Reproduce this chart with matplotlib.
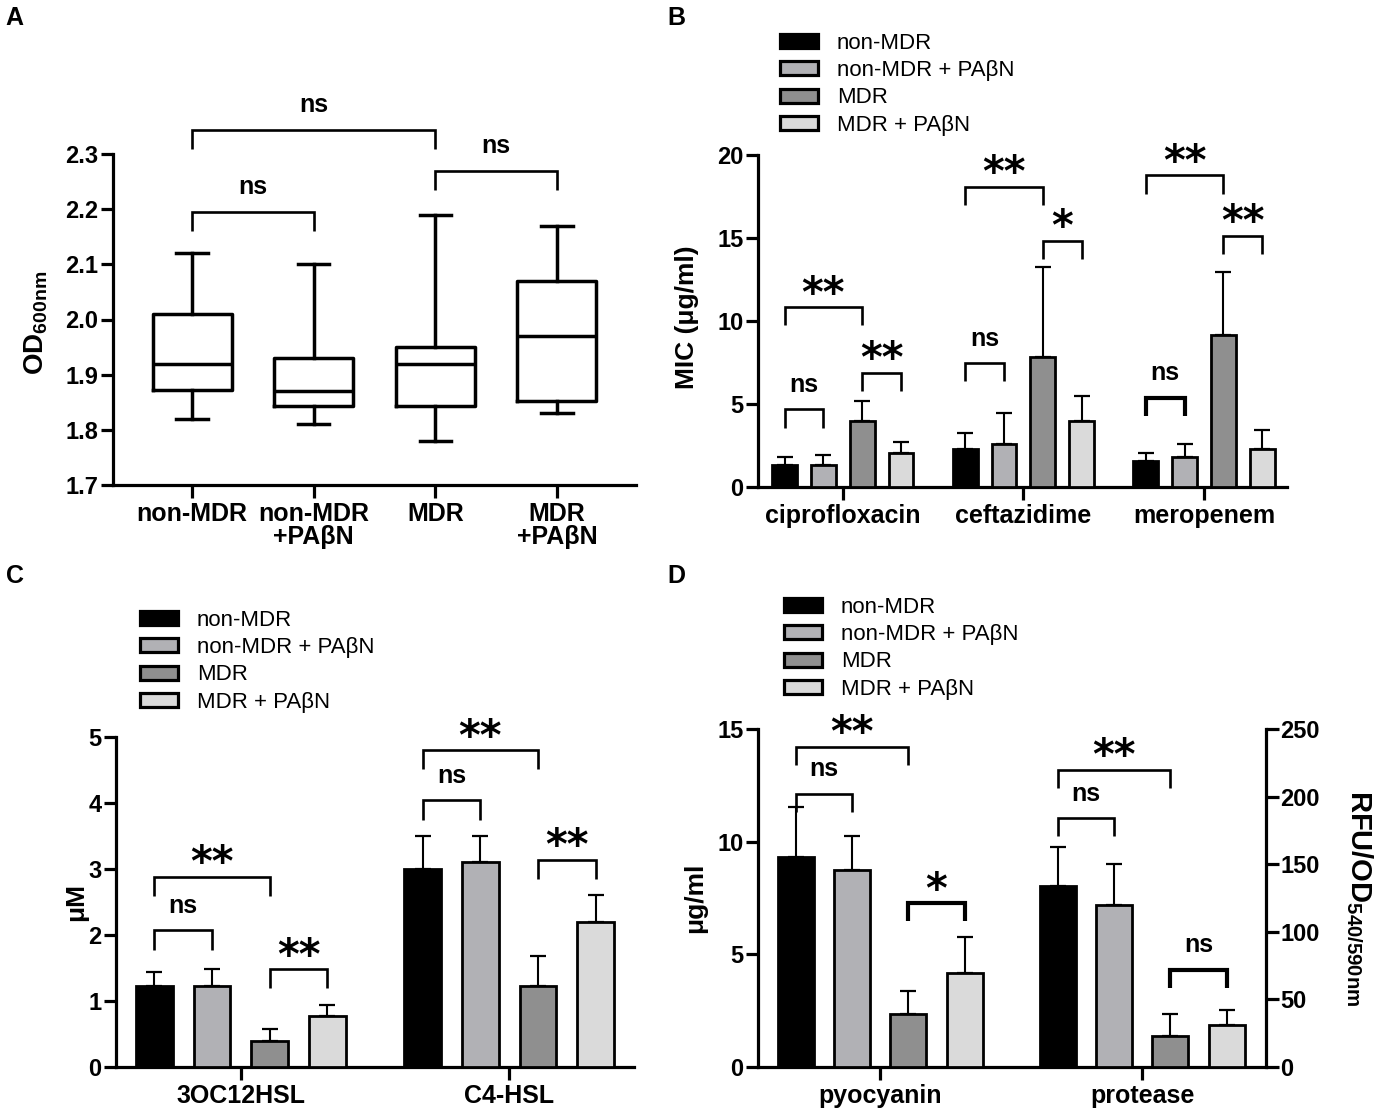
import matplotlib
matplotlib.use('Agg')
import matplotlib.pyplot as plt
from matplotlib.patches import Patch
import numpy as np

plt.rcParams['font.family'] = ['Liberation Sans', 'DejaVu Sans']
plt.rcParams['mathtext.fontset'] = 'custom'
plt.rcParams['mathtext.rm'] = 'Liberation Sans'
plt.rcParams['mathtext.bf'] = 'Liberation Sans:bold'
plt.rcParams['mathtext.it'] = 'Liberation Sans:italic'

series = ['non-MDR', 'non-MDR + PAβN', 'MDR', 'MDR + PAβN']
colors = ['#000000', '#b1b1b5', '#8f8f8f', '#dadada']

# panel A - growth (box plot)
box_labels = ['non-MDR', 'non-MDR\n+PAβN', 'MDR', 'MDR\n+PAβN']
box_min = [1.82, 1.81, 1.78, 1.83]
box_q1 = [1.873, 1.843, 1.843, 1.853]
box_med = [1.92, 1.87, 1.92, 1.97]
box_q3 = [2.01, 1.93, 1.95, 2.07]
box_max = [2.12, 2.10, 2.19, 2.17]
box_sig = [(0, 1, 2.195, 'ns'), (2, 3, 2.27, 'ns'), (0, 2, 2.344, 'ns')]

# panel B - MIC
mic_drugs = ['ciprofloxacin', 'ceftazidime', 'meropenem']
mic_mean = [[1.3, 2.27, 1.55], [1.3, 2.6, 1.8], [3.95, 7.83, 9.13], [2.06, 3.95, 2.27]]
mic_sd = [[0.48, 1.01, 0.51], [0.63, 1.86, 0.77], [1.22, 5.42, 3.84], [0.68, 1.54, 1.16]]
mic_sig = [(0, 0, 1, 4.67, 'ns', False), (0, 0, 2, 10.83, '**', False), (0, 2, 3, 6.88, '**', False),
           (1, 0, 1, 7.46, 'ns', False), (1, 0, 2, 18.07, '**', False), (1, 2, 3, 14.81, '*', False),
           (2, 0, 1, 5.38, 'ns', True), (2, 0, 2, 18.78, '**', False), (2, 2, 3, 15.14, '**', False)]

# panel C - AHLs
ahl_names = ['3OC12HSL', 'C4-HSL']
ahl_mean = [[1.23, 3.0], [1.23, 3.11], [0.39, 1.23], [0.77, 2.19]]
ahl_sd = [[0.21, 0.5], [0.26, 0.39], [0.19, 0.45], [0.17, 0.42]]
ahl_sig = [(0, 0, 1, 2.07, 'ns', False), (0, 0, 2, 2.88, '**', False), (0, 2, 3, 1.48, '**', False),
           (1, 0, 1, 4.04, 'ns', False), (1, 0, 2, 4.80, '**', False), (1, 2, 3, 3.14, '**', False)]

# panel D - virulence factors
vir_names = ['pyocyanin', 'protease']
pyo_mean = [9.32, 8.73, 2.34, 4.18]
pyo_sd = [2.21, 1.5, 1.05, 1.58]
prot_mean = [134, 120, 23, 31]
prot_sd = [29, 30.5, 16.5, 11.5]
pyo_sig = [(0, 0, 1, 12.13, 'ns', False), (0, 0, 2, 14.21, '**', False), (0, 2, 3, 7.26, '*', True)]
prot_sig = [(1, 0, 1, 184, 'ns', False), (1, 0, 2, 220, '**', False), (1, 2, 3, 72, 'ns', True)]

W = 0.137
offs = (np.arange(4) - 1.5) * 0.215
LW = 2.3


def style(ax, right=False):
    ax.spines['top'].set_visible(False)
    if not right:
        ax.spines['right'].set_visible(False)
    for s in ax.spines.values():
        s.set_linewidth(LW)
    ax.tick_params(axis='y', width=LW, length=9, labelsize=17, pad=1.5)
    ax.tick_params(axis='x', width=LW, length=9, labelsize=18, pad=3)
    for t in ax.get_yticklabels() + ax.get_xticklabels():
        t.set_fontweight('bold')


def bracket(ax, x1, x2, y, leg, label, thick=False):
    lw = 3.0 if thick else 1.9
    ax.plot([x1, x1, x2, x2], [y - leg, y, y, y - leg], color='black', lw=lw,
            clip_on=False, solid_joinstyle='miter', solid_capstyle='butt')
    if label == 'ns':
        ax.annotate('ns', ((x1 + x2) / 2, y), xytext=(0, 9), textcoords='offset points',
                    ha='center', va='bottom', fontsize=18, fontweight='bold', annotation_clip=False)
    else:
        ax.annotate(label, ((x1 + x2) / 2, y), xytext=(0, -6), textcoords='offset points',
                    ha='center', va='bottom', fontsize=30, fontweight='bold',
                    family='DejaVu Sans', annotation_clip=False)


def bars(ax, x0, means, sds):
    for k in range(4):
        x = np.asarray(x0) + offs[k]
        m = np.asarray(means[k], dtype=float)
        ax.bar(x, m, W, color=colors[k], edgecolor='black', linewidth=2.0, zorder=3)
        ax.errorbar(x, m, yerr=[np.zeros_like(m), sds[k]], fmt='none', ecolor='black',
                    elinewidth=1.5, capsize=5.8, capthick=1.6, zorder=2)


def legend(ax, x, y):
    handles = [Patch(facecolor=c, edgecolor='black', linewidth=2.3, label=s)
               for c, s in zip(colors, series)]
    ax.legend(handles=handles, loc='upper left', bbox_to_anchor=(x, y),
              bbox_transform=fig.transFigure, frameon=False, fontsize=16,
              handlelength=1.7, handleheight=0.6, handletextpad=0.85,
              labelspacing=0.28, borderpad=0, borderaxespad=0)


fig = plt.figure(figsize=(13.76, 11.10), dpi=100)

# ---- A
axA = fig.add_axes([113 / 1376, 1 - 485 / 1110, 523 / 1376, 331 / 1110])
stats = [dict(med=box_med[i], q1=box_q1[i], q3=box_q3[i], whislo=box_min[i],
              whishi=box_max[i], fliers=[]) for i in range(4)]
lp = dict(color='black', linewidth=2.5)
axA.bxp(stats, positions=range(4), widths=0.65, showfliers=False, capwidths=0.26,
        boxprops=lp, medianprops=lp, whiskerprops=lp, capprops=lp)
axA.set_xlim(-0.65, 3.65)
axA.set_ylim(1.7, 2.3)
axA.set_yticks(np.arange(1.7, 2.31, 0.1))
axA.set_yticklabels(['%.1f' % v for v in np.arange(1.7, 2.31, 0.1)])
axA.set_xticks(range(4))
axA.set_xticklabels(box_labels, linespacing=0.95)
style(axA)
for i, j, y, lab in box_sig:
    bracket(axA, i, j, y, 0.035, lab)
axA.set_ylabel(r'OD$_{\mathbf{600nm}}$', fontsize=20, fontweight='bold')
axA.yaxis.set_label_coords(-0.12, 0.49)

# ---- B
axB = fig.add_axes([758 / 1376, 1 - 487 / 1110, 529 / 1376, 332 / 1110])
gB = np.arange(len(mic_drugs))
bars(axB, gB, mic_mean, mic_sd)
axB.set_xlim(-0.47, 2.46)
axB.set_ylim(0, 20)
axB.set_yticks([0, 5, 10, 15, 20])
axB.set_xticks(gB)
axB.set_xticklabels(mic_drugs)
style(axB)
for g, i, j, y, lab, th in mic_sig:
    bracket(axB, g + offs[i], g + offs[j], y, 1.1, lab, th)
axB.set_ylabel('MIC (μg/ml)', fontsize=19, fontweight='bold')
axB.yaxis.set_label_coords(-0.112, 0.51)
legend(axB, 780 / 1376, 1 - 33 / 1110)

# ---- C
axC = fig.add_axes([116 / 1376, 1 - 1067 / 1110, 518 / 1376, 330 / 1110])
gC = np.arange(len(ahl_names))
bars(axC, gC, ahl_mean, ahl_sd)
axC.set_xlim(-0.466, 1.466)
axC.set_ylim(0, 5)
axC.set_yticks(range(6))
axC.set_xticks(gC)
axC.set_xticklabels(ahl_names)
style(axC)
for g, i, j, y, lab, th in ahl_sig:
    bracket(axC, g + offs[i], g + offs[j], y, 0.29, lab, th)
axC.set_ylabel('μM', fontsize=19, fontweight='bold')
axC.yaxis.set_label_coords(-0.054, 0.5)
legend(axC, 140 / 1376, 1 - 610 / 1110)

# ---- D
axD = fig.add_axes([758 / 1376, 1 - 1067 / 1110, 508 / 1376, 338 / 1110])
axD2 = axD.twinx()
bars(axD, [0], [[v] for v in pyo_mean], [[v] for v in pyo_sd])
bars(axD2, [1], [[v] for v in prot_mean], [[v] for v in prot_sd])
axD.set_xlim(-0.466, 1.473)
axD.set_ylim(0, 15)
axD.set_yticks([0, 5, 10, 15])
axD2.set_ylim(0, 250)
axD2.set_yticks([0, 50, 100, 150, 200, 250])
axD.set_xticks([0, 1])
axD.set_xticklabels(vir_names)
style(axD)
style(axD2, right=True)
axD2.spines['left'].set_visible(False)
axD2.spines['bottom'].set_visible(False)
for g, i, j, y, lab, th in pyo_sig:
    bracket(axD, g + offs[i], g + offs[j], y, 0.8, lab, th)
for g, i, j, y, lab, th in prot_sig:
    bracket(axD2, g + offs[i], g + offs[j], y, 13.5, lab, th)
axD.set_ylabel('μg/ml', fontsize=19, fontweight='bold')
axD.yaxis.set_label_coords(-0.1, 0.5)
axD2.set_ylabel(r'RFU/OD$_{\mathbf{540/590nm}}$', fontsize=21, fontweight='bold',
                rotation=270, va='bottom')
axD2.yaxis.set_label_coords(1.153, 0.5)
legend(axD, 784 / 1376, 1 - 597 / 1110)

for lab, x, y in [('A', 0.004, 0.995), ('B', 0.485, 0.995), ('C', 0.004, 0.492), ('D', 0.485, 0.492)]:
    fig.text(x, y, lab, fontsize=18, fontweight='bold', va='top')

fig.savefig('out.png', dpi=100)
